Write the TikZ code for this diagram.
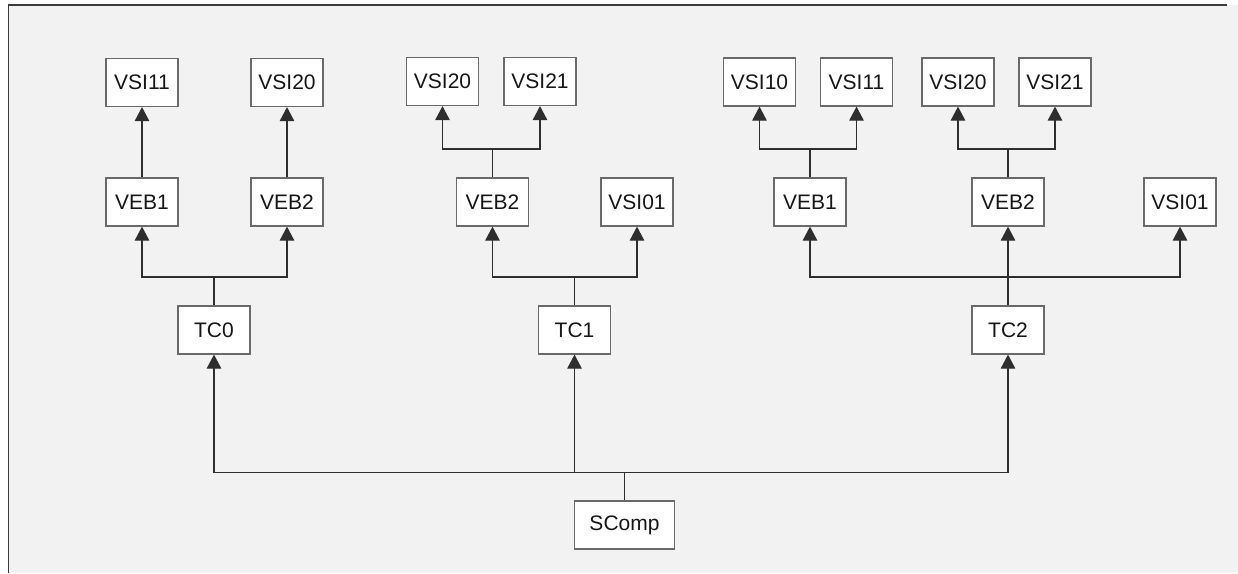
\documentclass[tikz,border=0pt]{standalone}
\usepackage{fontspec}
\setmainfont{Liberation Sans}
\usetikzlibrary{arrows.meta}
\definecolor{bgc}{HTML}{F2F2F2}
\definecolor{boxline}{HTML}{6A6A6A}
\definecolor{lineclr}{HTML}{2E2E2E}
\definecolor{framec}{HTML}{3A3A3A}
\definecolor{txt}{HTML}{161616}
\begin{document}
\begin{tikzpicture}[x=1pt,y=-1pt,
  box/.style={draw=boxline,fill=white,line width=1.2pt,minimum width=72pt,minimum height=48pt,inner sep=0pt,font=\fontsize{21}{24}\selectfont,text=txt},
  conn/.style={draw=lineclr,line width=1.1pt},
  arr/.style={conn,-{Triangle[length=14pt,width=14.5pt]}}]
\useasboundingbox (0,0) rectangle (1238,573);
\fill[white] (0,0) rectangle (1238,573);
\fill[bgc] (8.5,5) rectangle (1238,573);
\draw[framec,line width=1.3pt] (1227,5) -- (8.5,5) -- (8.5,573);

% group 1
\node[box] (g1vsi11) at (142,82.5) {VSI11};
\node[box] (g1vsi20) at (287,82.5) {VSI20};
\node[box] (g1veb1) at (142,202) {VEB1};
\node[box] (g1veb2) at (287,202) {VEB2};
\node[box] (tc0) at (214,330) {TC0};
% group 2
\node[box] (g2vsi20) at (442.5,81.5) {VSI20};
\node[box] (g2vsi21) at (540,81.5) {VSI21};
\node[box] (g2veb2) at (492.5,202) {VEB2};
\node[box] (g2vsi01) at (637,202) {VSI01};
\node[box] (tc1) at (574.5,330) {TC1};
% group 3
\node[box] (g3vsi10) at (759.5,82) {VSI10};
\node[box] (g3vsi11) at (856.5,82) {VSI11};
\node[box] (g3vsi20) at (958,82) {VSI20};
\node[box] (g3vsi21) at (1055,82) {VSI21};
\node[box] (g3veb1) at (810,202) {VEB1};
\node[box] (g3veb2) at (1008,202) {VEB2};
\node[box] (g3vsi01) at (1180,202) {VSI01};
\node[box] (tc2) at (1008,330) {TC2};
% root
\node[box,minimum width=100pt] (scomp) at (624.5,525) {SComp};

% junction coordinates
\coordinate (j0) at (tc0.north |- 0,277);
\coordinate (j1) at (tc1.north |- 0,277);
\coordinate (j2) at (tc2.north |- 0,277);
\coordinate (k2) at (g2veb2.north |- 0,149);
\coordinate (k31) at (g3veb1.north |- 0,149);
\coordinate (k32) at (g3veb2.north |- 0,149);
\coordinate (bus) at (scomp.north |- 0,472.5);

% group 1 connectors
\draw[arr] (g1veb1.north) -- (g1vsi11.south);
\draw[arr] (g1veb2.north) -- (g1vsi20.south);
\draw[conn] (tc0.north) -- (j0);
\draw[arr] (j0) -| (g1veb1.south);
\draw[arr] (j0) -| (g1veb2.south);
% group 2 connectors
\draw[conn] (g2veb2.north) -- (k2);
\draw[arr] (k2) -| (g2vsi20.south);
\draw[arr] (k2) -| (g2vsi21.south);
\draw[conn] (tc1.north) -- (j1);
\draw[arr] (j1) -| (g2veb2.south);
\draw[arr] (j1) -| (g2vsi01.south);
% group 3 connectors
\draw[conn] (g3veb1.north) -- (k31);
\draw[arr] (k31) -| (g3vsi10.south);
\draw[arr] (k31) -| (g3vsi11.south);
\draw[conn] (g3veb2.north) -- (k32);
\draw[arr] (k32) -| (g3vsi20.south);
\draw[arr] (k32) -| (g3vsi21.south);
\draw[conn] (tc2.north) -- (j2);
\draw[arr] (j2) -| (g3veb1.south);
\draw[arr] (j2) -- (g3veb2.south);
\draw[arr] (j2) -| (g3vsi01.south);
% root bus
\draw[conn] (scomp.north) -- (bus);
\draw[arr] (bus) -| (tc0.south);
\draw[arr] (bus) -| (tc1.south);
\draw[arr] (bus) -| (tc2.south);
\end{tikzpicture}
\end{document}
